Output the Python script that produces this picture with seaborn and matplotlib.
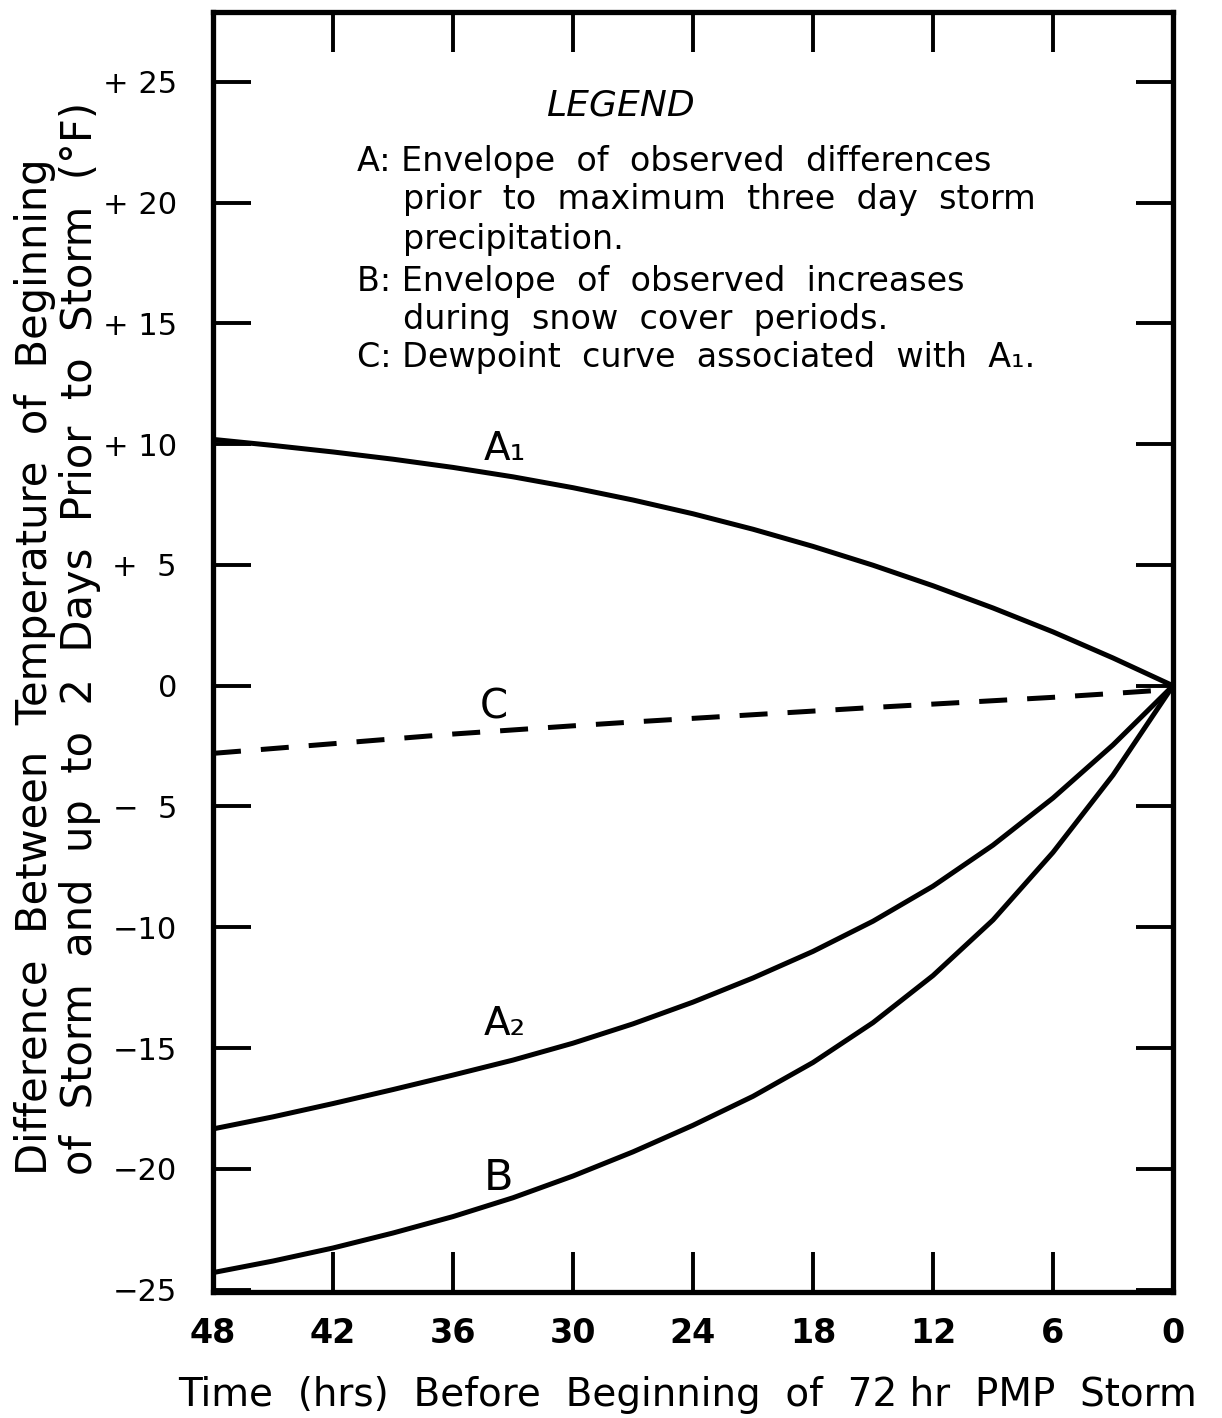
import matplotlib
matplotlib.use("Agg")
import matplotlib.pyplot as plt
import seaborn as sns
import pandas as pd

# ── data ─────────────────────────────────────────────────────
hours = [48, 45, 42, 39, 36, 33, 30, 27, 24, 21, 18, 15, 12, 9, 6, 3, 0]
a1 = [10.2, 9.95, 9.68, 9.38, 9.04, 8.65, 8.2, 7.69, 7.12, 6.48, 5.77, 4.99,
      4.14, 3.22, 2.23, 1.15, 0.0]
c_dew = [-2.8, -2.6, -2.4, -2.2, -2.0, -1.83, -1.66, -1.5, -1.35, -1.2, -1.05,
         -0.9, -0.76, -0.62, -0.48, -0.32, -0.15]
a2 = [-18.35, -17.85, -17.3, -16.72, -16.12, -15.5, -14.8, -14.0, -13.1, -12.1,
      -11.0, -9.75, -8.3, -6.6, -4.65, -2.45, 0.0]
b = [-24.3, -23.82, -23.28, -22.66, -21.98, -21.2, -20.3, -19.3, -18.2, -17.0,
     -15.6, -13.95, -12.0, -9.7, -6.9, -3.7, 0.0]

x_ticks = [48, 42, 36, 30, 24, 18, 12, 6, 0]
x_labels = ['48', '42', '36', '30', '24', '18', '12', '6', '0']
y_ticks = [25, 20, 15, 10, 5, 0, -5, -10, -15, -20, -25]
y_labels = ['+ 25', '+ 20', '+ 15', '+ 10', '+  5', '0', '\u2212  5', '\u221210',
            '\u221215', '\u221220', '\u221225']

legend_lines = [
    ('A: Envelope  of  observed  differences', 0.150),
    ('prior  to  maximum  three  day  storm', 0.198),
    ('precipitation.', 0.198),
    ('B: Envelope  of  observed  increases', 0.150),
    ('during  snow  cover  periods.', 0.198),
    ('C: Dewpoint  curve  associated  with  A\u2081.', 0.150),
]

df = pd.DataFrame({'hours': hours, 'A1': a1, 'C': c_dew, 'A2': a2, 'B': b})

# ── style ────────────────────────────────────────────────────
sns.set_theme(style="ticks")
plt.rcParams['font.family'] = ['DejaVu Sans']
plt.rcParams['text.color'] = 'black'

fig = plt.figure(figsize=(12.22, 14.18), dpi=100)
fig.patch.set_facecolor('white')
ax = fig.add_axes([0.1743, 0.0889, 0.7856, 0.9027])
ax.set_facecolor('white')

lw = 3.6
sns.lineplot(data=df, x='hours', y='A1', ax=ax, color='black', lw=lw, sort=False)
sns.lineplot(data=df, x='hours', y='A2', ax=ax, color='black', lw=lw, sort=False)
sns.lineplot(data=df, x='hours', y='B', ax=ax, color='black', lw=lw, sort=False)
sns.lineplot(data=df, x='hours', y='C', ax=ax, color='black', lw=lw, sort=False,
             linestyle=(0, (5.6, 4.0)))

ax.set_xlim(48, 0)
ax.set_ylim(-25.1, 27.9)

for s in ax.spines.values():
    s.set_visible(True)
    s.set_linewidth(3.8)
    s.set_color('black')

ax.set_xticks(x_ticks)
ax.set_xticklabels(x_labels, fontsize=24, fontweight='bold')
ax.set_yticks(y_ticks)
ax.set_yticklabels(y_labels, fontsize=22)
ax.tick_params(axis='x', direction='in', length=29, width=2.8, top=True,
               bottom=True, labeltop=False, pad=18, colors='black')
ax.tick_params(axis='y', direction='in', length=27, width=2.8, left=True,
               right=True, labelright=False, pad=26, colors='black')
ax.set_xlabel('')
ax.set_ylabel('')

# curve labels
ax.text(33.4, 9.8, 'A\u2081', fontsize=28, ha='center', va='center')
ax.text(33.95, -0.9, 'C', fontsize=29, ha='center', va='center')
ax.text(33.4, -14.0, 'A\u2082', fontsize=28, ha='center', va='center')
ax.text(33.7, -20.37, 'B', fontsize=31, ha='center', va='center')

# legend block
ax.text(0.424, 0.927, 'LEGEND', transform=ax.transAxes, fontsize=26,
        style='italic', ha='center', va='center')
line_y = [0.8828, 0.8531, 0.8219, 0.7891, 0.7594, 0.7297]
for (txt, xpos), yy in zip(legend_lines, line_y):
    ax.text(xpos, yy, txt, transform=ax.transAxes, fontsize=24,
            ha='left', va='center')

# axis titles
fig.text(0.563, 0.016,
         'Time  (hrs)  Before  Beginning  of  72 hr  PMP  Storm',
         fontsize=28, ha='center', va='center')
fig.text(0.047, 1 - 1175 / 1418,
         'Difference  Between  Temperature  of  Beginning\n'
         'of  Storm  and  up  to  2  Days  Prior  to  Storm  (\u00b0F)',
         fontsize=30, rotation=90, ha='center', va='bottom',
         multialignment='left', linespacing=1.1)

plt.savefig('out.png', dpi=100, facecolor='white')
